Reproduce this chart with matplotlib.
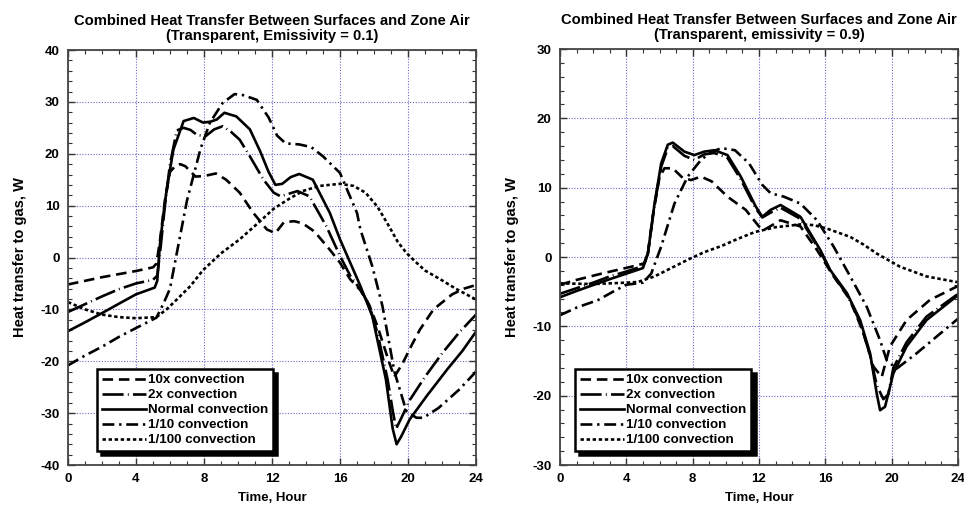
import matplotlib
matplotlib.use("Agg")
import matplotlib.pyplot as plt
from matplotlib.ticker import MultipleLocator

# ---------------- data ----------------
labels = ["10x convection", "2x convection", "Normal convection",
          "1/10 convection", "1/100 convection"]

# Left panel: emissivity 0.1
L_10x_t = [0, 1, 2, 3, 4, 5, 5.2, 5.4, 5.7, 6.0, 6.3, 6.6, 6.9, 7.2, 7.5, 8.0, 8.7, 9.3, 10.1, 10.9, 11.7, 12.2, 12.7, 13.3, 13.8, 14.5, 15.4, 16.0, 16.6, 17.2, 17.7, 18.2, 18.9, 19.2, 19.7, 20.2, 20.7, 21.5, 22.6, 23.3, 24]
L_10x_v = [-5.2, -4.5, -3.8, -3.2, -2.6, -1.9, -1.2, 3, 11, 16.5, 17.6, 18, 17.6, 16.6, 15.6, 15.7, 16.2, 15, 12.5, 8.6, 5.4, 4.7, 6.8, 7, 6.6, 5, 1.5, -1, -4.2, -6.3, -9, -13.2, -20.3, -23, -20.3, -17, -13.9, -10, -7.1, -6, -5.3]

L_2x_t = [0, 1, 2, 3, 4, 5, 5.25, 5.45, 5.7, 6.0, 6.4, 6.8, 7.2, 7.6, 8.1, 8.6, 9.1, 9.6, 10.1, 10.7, 11.5, 12.1, 12.5, 13.0, 13.5, 14.2, 15.2, 16.0, 16.6, 17.2, 17.7, 18.2, 18.8, 19.1, 19.3, 19.6, 20.1, 21.0, 22.0, 23.0, 24]
L_2x_v = [-10.5, -9.0, -7.5, -6.1, -5.0, -4.3, -3.5, 2, 10, 18, 24.5, 25, 24.6, 23.6, 23.4, 24.7, 25.3, 24.2, 22.7, 19.5, 15, 12.5, 11.8, 12.3, 12.8, 11.8, 6, 0.3, -3.5, -6.2, -9, -14.5, -23.5, -29.5, -33, -31, -27.5, -23, -18.5, -14.5, -11]

L_norm_t = [0, 1, 1.9, 3, 4, 5.1, 5.25, 5.4, 5.6, 5.8, 6.2, 6.8, 7.4, 7.95, 8.4, 8.75, 9.2, 9.9, 10.7, 11.3, 11.8, 12.2, 12.6, 13.1, 13.6, 14.4, 15.4, 16.0, 16.6, 17.2, 17.9, 18.7, 19.1, 19.33, 19.6, 20.1, 21.1, 22.3, 23.2, 24]
L_norm_v = [-14.2, -12.5, -10.9, -8.9, -7.1, -5.8, -4.5, 2.2, 8, 13, 20.8, 26.3, 26.9, 26.0, 26.2, 26.6, 27.9, 27.2, 24.7, 20.5, 16.5, 14, 14.2, 15.5, 16.1, 15, 8.6, 3.5, -1, -5.5, -11.3, -23.5, -33, -36, -34.5, -31.2, -26.7, -21.6, -18, -14.3]

L_10th_t = [0, 1, 2, 3, 4, 5.2, 5.6, 6.0, 6.35, 7.0, 7.8, 8.35, 9.1, 9.8, 10.3, 11.1, 11.8, 12.3, 12.8, 13.6, 14.3, 15.0, 16.0, 17.0, 17.2, 17.9, 18.5, 19.2, 19.9, 20.5, 20.9, 21.8, 23.0, 24]
L_10th_v = [-20.8, -18.9, -17.2, -15.3, -13.6, -11.6, -9, -6, 0, 11, 21, 26, 29.8, 31.5, 31.3, 30.4, 27, 23.5, 22, 21.8, 21.3, 19.5, 16.3, 8.6, 5.4, -1.7, -9.4, -22, -29.6, -30.9, -30.9, -29, -25.5, -22]

L_100th_t = [0, 1, 2, 3, 4, 5.2, 5.8, 6.4, 7.2, 7.95, 9, 10.1, 11.3, 12.1, 13, 13.8, 14.8, 16, 16.8, 17.5, 18.2, 18.8, 19.4, 19.9, 20.5, 21, 21.9, 22.8, 24]
L_100th_v = [-8.6, -10.0, -11.0, -11.5, -11.7, -11.5, -10, -8.1, -5.5, -2.4, 0.8, 3.5, 7, 9.4, 11.3, 12.8, 13.8, 14.2, 13.8, 12.5, 9.8, 6.5, 3, 0.9, -1, -2.5, -4.2, -6, -8.1]

# Right panel: emissivity 0.9
R_10x_t = [0, 1, 2.5, 4.3, 5.1, 5.3, 5.6, 6.0, 6.3, 6.8, 7.4, 7.9, 8.5, 9.15, 10.1, 11.2, 12.0, 12.3, 13.3, 14.5, 15.5, 16.5, 17.5, 18.3, 18.9, 19.4, 19.9, 20.9, 22.3, 23.9, 24]
R_10x_v = [-4.0, -3.3, -2.4, -1.4, -0.9, 0.5, 6, 11.5, 12.8, 12.8, 11.4, 11.1, 11.6, 10.9, 8.7, 6.8, 4.4, 3.9, 5.3, 4.4, 1, -2.8, -6.2, -11, -15.8, -17.3, -12.9, -9.1, -6.2, -4.3, -4.2]

R_2x_t = [0, 1, 2, 3, 4, 5, 5.3, 5.7, 6.1, 6.5, 6.8, 7.5, 8.1, 8.7, 9.3, 10.1, 10.9, 11.8, 12.2, 12.7, 13.3, 14.5, 15.7, 16.3, 17.3, 18.1, 18.7, 19.1, 19.5, 19.8, 20.1, 20.9, 22.1, 23.9, 24]
R_2x_v = [-5.3, -4.5, -3.7, -2.8, -2.1, -1.3, 0.5, 7.5, 13, 15.7, 16.0, 14.6, 14.0, 14.8, 15.0, 14.3, 11.2, 7, 5.7, 6.4, 7.1, 5.5, 0.8, -2.0, -5.4, -9.4, -14.2, -18.5, -20.5, -19.8, -16.0, -12.3, -8.6, -5.5, -5.4]

R_norm_t = [0, 1, 1.7, 3, 4, 5, 5.3, 5.7, 6.1, 6.5, 6.8, 7.5, 8.1, 8.7, 9.3, 10.1, 10.9, 11.8, 12.2, 12.7, 13.3, 14.5, 15.7, 16.3, 17.3, 18.1, 18.7, 19.1, 19.3, 19.6, 20.1, 20.9, 22.1, 23.9, 24]
R_norm_v = [-5.8, -4.9, -4.3, -3.2, -2.4, -1.6, 0.5, 7.7, 13.5, 16.2, 16.5, 15.2, 14.7, 15.2, 15.4, 14.7, 11.6, 7.3, 5.8, 6.8, 7.5, 5.8, 1, -1.9, -5.2, -9.1, -13.9, -19.7, -22.1, -21.6, -16.8, -12.9, -9.1, -5.7, -5.6]

R_10th_t = [0, 1, 2.3, 3.2, 4, 5, 5.5, 6.1, 6.9, 7.7, 8.5, 9.15, 9.75, 10.55, 11.4, 12.2, 12.7, 13.5, 14.5, 15.5, 16.5, 17.5, 18.5, 19.3, 19.7, 20.3, 21.5, 22.7, 24]
R_10th_v = [-8.4, -7.3, -6.2, -5, -4, -3.7, -2.4, 1.5, 7.7, 11.6, 14, 15.2, 15.7, 15.4, 13.5, 10.4, 9.2, 8.7, 7.7, 5.3, 1.5, -2.8, -7.2, -12, -14.9, -16.1, -13.9, -11.5, -8.9]

R_100th_t = [0, 2, 4, 4.7, 5.7, 6.7, 7.7, 8.7, 9.75, 10.7, 11.75, 13, 14.5, 15.3, 16.1, 17.5, 18.3, 19.1, 20.5, 22.1, 23.9, 24]
R_100th_v = [-3.8, -3.9, -3.7, -3.6, -2.8, -1.6, -0.4, 0.7, 1.6, 2.6, 3.6, 4.3, 4.7, 4.6, 4.1, 2.9, 1.8, 0.5, -1.4, -2.8, -3.6, -3.6]

left_title = "Combined Heat Transfer Between Surfaces and Zone Air\n(Transparent, Emissivity = 0.1)"
right_title = "Combined Heat Transfer Between Surfaces and Zone Air\n(Transparent, emissivity = 0.9)"
x_ticks = [0, 4, 8, 12, 16, 20, 24]
left_yticks = [-40, -30, -20, -10, 0, 10, 20, 30, 40]
right_yticks = [-30, -20, -10, 0, 10, 20, 30]

# ---------------- style ----------------
plt.rcParams['font.family'] = ['Liberation Sans', 'DejaVu Sans']
plt.rcParams['font.weight'] = 'bold'
plt.rcParams['axes.unicode_minus'] = False

styles = [
    dict(ls=(0, (4.0, 2.2))),
    dict(ls=(0, (8, 1.6, 0.35, 1.6))),
    dict(ls='-'),
    dict(ls=(0, (4.5, 1.8, 0.9, 1.8))),
    dict(ls=(0, (1.3, 1.0))),
]

fig = plt.figure(figsize=(9.64, 5.16), dpi=100)
ax1 = fig.add_axes([68/964, 1-465/516, 408/964, 415/516])
ax2 = fig.add_axes([560/964, 1-465/516, 398/964, 416/516])

left_series = [(L_10x_t, L_10x_v), (L_2x_t, L_2x_v), (L_norm_t, L_norm_v),
               (L_10th_t, L_10th_v), (L_100th_t, L_100th_v)]
right_series = [(R_10x_t, R_10x_v), (R_2x_t, R_2x_v), (R_norm_t, R_norm_v),
                (R_10th_t, R_10th_v), (R_100th_t, R_100th_v)]


def setup(ax, series, title, yticks, legend_x):
    for (t, v), lab, st in zip(series, labels, styles):
        ax.plot(t, v, color='black', lw=1.9, label=lab, **st)
    ax.set_xlim(0, 24)
    ax.set_ylim(yticks[0], yticks[-1])
    ax.set_xticks(x_ticks)
    ax.set_yticks(yticks)
    ax.xaxis.set_minor_locator(MultipleLocator(1))
    ax.yaxis.set_minor_locator(MultipleLocator(2))
    ax.tick_params(which='both', direction='in', top=True, right=True,
                   labelsize=9.5, color='#333333', pad=6)
    ax.tick_params(which='major', length=5, width=1)
    ax.tick_params(which='minor', length=3, width=0.8)
    for lbl in ax.get_xticklabels() + ax.get_yticklabels():
        lbl.set_fontweight('bold')
    ax.grid(True, which='major', color='#6a6ac8', ls=(0, (1, 1.5)), lw=0.8)
    for s in ax.spines.values():
        s.set_linewidth(1.3)
        s.set_color('#444444')
    ax.set_title(title, fontsize=10.6, fontweight='bold', pad=7, linespacing=1.1)
    ax.set_xlabel("Time, Hour", fontsize=9.5, fontweight='bold', labelpad=5)
    ax.set_ylabel("Heat transfer to gas, W", fontsize=10.5, fontweight='bold', labelpad=10)
    leg = ax.legend(loc='lower left', bbox_to_anchor=(legend_x, 0.034),
                    borderaxespad=0, frameon=True, fancybox=False,
                    shadow={'color': 'black', 'alpha': 1.0, 'ox': 3, 'oy': -3},
                    prop=dict(size=9.6, weight='bold'), handlelength=3.3,
                    handletextpad=0.2, labelspacing=0.2, borderpad=0.35)
    leg.get_frame().set_edgecolor('black')
    leg.get_frame().set_linewidth(1.8)
    leg.get_frame().set_facecolor('white')
    leg.set_zorder(10)


setup(ax1, left_series, left_title, left_yticks, 0.071)
setup(ax2, right_series, right_title, right_yticks, 0.038)

fig.savefig("out.png", dpi=100)
